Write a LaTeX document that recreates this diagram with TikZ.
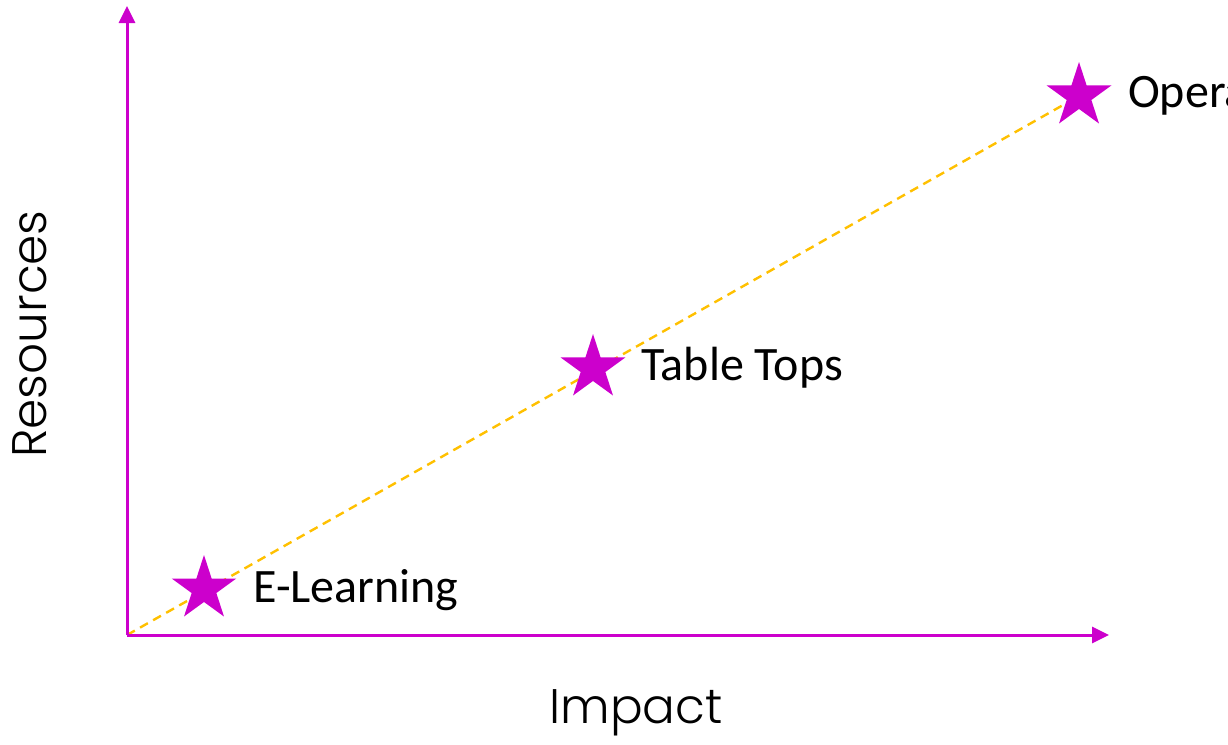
\documentclass[tikz,border=0pt]{standalone}
\usepackage{fontspec}
\setmainfont{Carlito}
\newfontfamily\axisfont{Poppins}[UprightFont=* Light]
\usetikzlibrary{shapes.geometric,arrows.meta}
\definecolor{mag}{HTML}{CC00CC}
\definecolor{gold}{HTML}{FFC000}
\tikzset{
  axisline/.style={draw=mag, line width=3pt, -{Triangle[length=17pt,width=16pt]}},
  starmark/.style={star, star points=5, star point ratio=2.618, fill=mag, draw=none, minimum size=68pt, inner sep=0pt},
  lbl/.style={anchor=west, font=\fontsize{48}{52}\selectfont, inner sep=0pt},
  axlbl/.style={font=\axisfont\fontsize{48.5}{52}\selectfont, inner sep=0pt},
  trend/.style={draw=gold, line width=2.4pt, dash pattern=on 9pt off 6pt}
}
\begin{document}
\begin{tikzpicture}[x=1pt,y=-1pt]
\useasboundingbox (0,0) rectangle (1228,744);
\coordinate (o) at (127,635);
\coordinate (ytop) at (127,6);
\coordinate (xend) at (1109,635);
\coordinate (c1) at (204,589);
\coordinate (c2) at (593,368);
\coordinate (c3) at (1079,96);
\draw[trend] (o) -- (c3);
\node[starmark] (s1) at (c1) {};
\node[starmark] (s2) at (c2) {};
\node[starmark] (s3) at (c3) {};
\draw[axisline] (o) -- (ytop);
\draw[axisline] (o) -- (xend);
\node[lbl] (l1) at (253,590) {E-Learning};
\node[lbl] (l2) at (641,368) {Table Tops};
\node[lbl] (l3) at (1128,96) {Opera};
\node[axlbl, rotate=90] (ry) at (30,334) {Resources};
\node[axlbl] (rx) at (636,713) {Impact};
\end{tikzpicture}
\end{document}
